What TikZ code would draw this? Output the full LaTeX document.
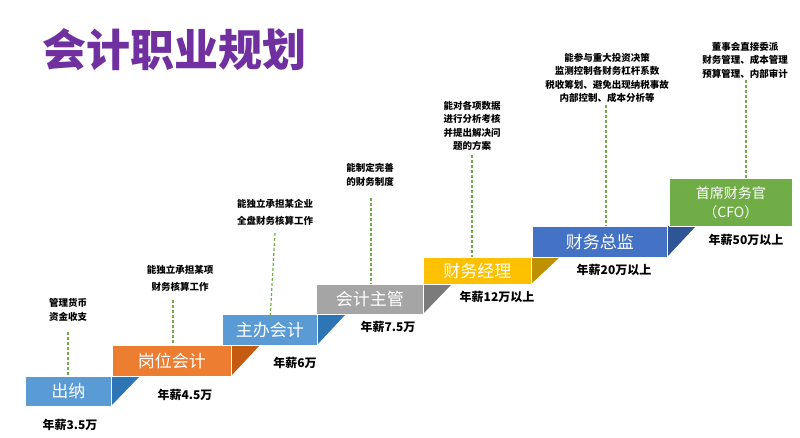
\documentclass[tikz,border=0pt]{standalone}
\usepackage{fontspec}
\setmainfont{Noto Sans CJK SC}
\usetikzlibrary{calc}
\definecolor{cblue}{HTML}{5B9BD5}\definecolor{cblued}{HTML}{2E75B6}
\definecolor{corg}{HTML}{ED7D31}\definecolor{corgd}{HTML}{C55A11}
\definecolor{cgray}{HTML}{A5A5A5}\definecolor{cgrayd}{HTML}{7B7B7B}
\definecolor{cyel}{HTML}{FFC000}\definecolor{cyeld}{HTML}{BF9000}
\definecolor{cdb}{HTML}{4472C4}\definecolor{cdbd}{HTML}{2F5597}
\definecolor{cgrn}{HTML}{70AD47}
\definecolor{cpur}{HTML}{7030A0}
\definecolor{cdash}{HTML}{70AD47}
\tikzset{
 stepbox/.style={draw=white,line width=0.6pt,inner sep=0pt,anchor=north west,text=white,font=\fontsize{17}{19}\selectfont},
 desc/.style={font=\bfseries\fontsize{9.5}{13.5}\selectfont,align=center,inner sep=0pt},
 sal/.style={font=\bfseries\fontsize{12}{14}\selectfont,inner sep=0pt},
 conn/.style={cdash,dashed,line width=1.2pt,dash pattern=on 3pt off 2pt}
}
\begin{document}
\begin{tikzpicture}[x=1pt,y=-1pt]
\useasboundingbox (0,0) rectangle (800,438);
\node[text=cpur,font=\bfseries\fontsize{44}{48}\selectfont] (title) at (174,50) {会计职业规划};
% steps: name, x1,y1,x2,y2, fill, dark
\foreach \n/\xa/\ya/\xb/\yb/\c/\d/\t in {s1/25/376/111/406/cblue/cblued/出纳, s2/112/345/231/376/corg/corgd/岗位会计, s3/222/314/317/345/cblue/cblued/主办会计, s4/316/284/423/314/cgray/cgrayd/会计主管, s5/423/257/531/284/cyel/cyeld/财务经理, s6/532/226/667/257/cdb/cdbd/财务总监}{
  \fill[\d] (\xb,\ya) -- (\xb+29,\ya) -- (\xb,\yb) -- cycle;
  \node[stepbox,fill=\c,minimum width={(\xb-\xa)*1pt},minimum height={(\yb-\ya)*1pt}] (\n) at (\xa,\ya) {\t};
}
\node[stepbox,fill=cgrn,minimum width=123pt,minimum height=48pt,align=center,font=\fontsize{14}{19}\selectfont] (s7) at (669,178) {首席财务官\\（CFO）};
% salaries
\node[sal] (p1) at (70,425) {年薪3.5万};
\node[sal] (p2) at (185,395) {年薪4.5万};
\node[sal] (p3) at (295,363) {年薪6万};
\node[sal] (p4) at (388,327) {年薪7.5万};
\node[sal] (p5) at (497,297) {年薪12万以上};
\node[sal] (p6) at (614,270) {年薪20万以上};
\node[sal] (p7) at (746,240) {年薪50万以上};
% descriptions
\node[desc] (d1) at (68,310) {管理货币\\资金收支};
\node[desc,font=\bfseries\fontsize{9.5}{17}\selectfont] (d2) at (180,278) {能独立承担某项\\财务核算工作};
\node[desc,font=\bfseries\fontsize{9.5}{17}\selectfont] (d3) at (275,212) {能独立承担某企业\\全盘财务核算工作};
\node[desc] (d4) at (370,175) {能制定完善\\的财务制度};
\node[desc] (d5) at (472,126) {能对各项数据\\进行分析考核\\并提出解决问\\题的方案};
\node[desc] (d6) at (607,78) {能参与重大投资决策\\监测控制各财务杠杆系数\\税收筹划、避免出现纳税事故\\内部控制、成本分析等};
\node[desc] (d7) at (745,60) {董事会直接委派\\财务管理、成本管理\\预算管理、内部审计};
% connectors
\coordinate (c1) at (68,376);\draw[conn] (68,332) -- (c1);
\coordinate (c2) at (173,345);\draw[conn] (173,300) -- (c2);
\coordinate (c3) at (270,320);\draw[conn] (275,233) -- (c3);
\coordinate (c4) at (371,284);\draw[conn] (371,198) -- (c4);
\coordinate (c5) at (472,257);\draw[conn] (472,155) -- (c5);
\coordinate (c6) at (606,226);\draw[conn] (606,105) -- (c6);
\coordinate (c7) at (746,178);\draw[conn] (746,80) -- (c7);
\end{tikzpicture}
\end{document}
